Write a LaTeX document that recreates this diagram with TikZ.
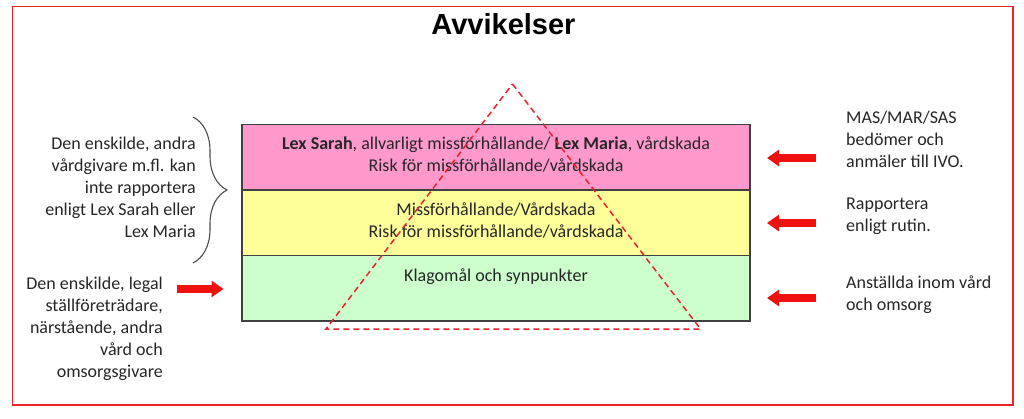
\documentclass[tikz,border=0pt]{standalone}
\usepackage{fontspec}
\setmainfont{Carlito}
\newfontfamily\titlefont{Liberation Sans}
\usetikzlibrary{arrows.meta,decorations.pathreplacing}
\definecolor{framered}{HTML}{E8232A}
\definecolor{rowpink}{HTML}{FF99CC}
\definecolor{rowyellow}{HTML}{FFFF99}
\definecolor{rowgreen}{HTML}{CCFFCC}
\definecolor{txt}{HTML}{262626}
\definecolor{arrowred}{HTML}{F01010}
\tikzset{
  body/.style={font=\fontsize{18}{22}\selectfont, text=txt, inner sep=0pt},
  rowbox/.style={draw=black!75, line width=1.3pt, minimum width=508pt, minimum height=65.5pt, inner sep=0pt},
  redarrow/.style={draw=arrowred, line width=7.5pt, -{Triangle[length=12pt,width=16pt]}},
}
\begin{document}
\begin{tikzpicture}[x=1pt,y=-1pt]
\useasboundingbox (0,0) rectangle (1024,419);
\draw[framered, line width=1.8pt] (12.5,6.5) rectangle (1013,405);
\node[anchor=base, inner sep=0pt, font=\titlefont\bfseries\fontsize{29}{34}\selectfont, text=black] (title) at (503.5,35) {Avvikelser};

\node[rowbox, fill=rowpink] (r1) at (496,157.3) {};
\node[rowbox, fill=rowyellow] (r2) at (496,222.8) {};
\node[rowbox, fill=rowgreen] (r3) at (496,288.3) {};

\node[body, anchor=base, align=center] (t1) at (496,172) {\textbf{Lex Sarah}, allvarligt missförhållande/ \textbf{Lex Maria}, vårdskada\\Risk för missförhållande/vårdskada};
\node[body, anchor=base, align=center] (t2) at (496,237.5) {Missförhållande/Vårdskada\\Risk för missförhållande/vårdskada};
\node[body, anchor=base, align=center] (t3) at (496,281) {Klagomål och synpunkter};

\coordinate (ta) at (512.5,84);
\coordinate (tl) at (326,329);
\coordinate (tr) at (700.5,329);
\draw[framered, line width=1.5pt, dash pattern=on 6pt off 4pt] (ta) -- (tr) -- (tl) -- cycle;

\node[body, anchor=base east, align=right] (l1) at (196,238) {Den enskilde, andra\\vårdgivare m.fl. kan\\inte rapportera\\enligt Lex Sarah eller\\Lex Maria};
\coordinate (bt) at (193,117);
\coordinate (bb) at (193,263);
\draw[black!70, line width=1.1pt, decorate, decoration={brace, amplitude=34pt}] (bt) -- (bb);

\node[body, anchor=base east, align=right] (l2) at (163,377) {Den enskilde, legal\\ställföreträdare,\\närstående, andra\\vård och\\omsorgsgivare};
\coordinate (la0) at (177,289);
\coordinate (la1) at (223.5,289);
\draw[redarrow] (la0) -- (la1);

\node[body, anchor=base west, align=left] (rt1) at (846,168) {MAS/MAR/SAS\\bedömer och\\anmäler till IVO.};
\node[body, anchor=base west, align=left] (rt2) at (846,232) {Rapportera\\enligt rutin.};
\node[body, anchor=base west, align=left] (rt3) at (846,310) {Anställda inom vård\\och omsorg};

\coordinate (ra0) at (816,158);
\coordinate (ra1) at (767,158);
\coordinate (rb0) at (816,223);
\coordinate (rb1) at (767,223);
\coordinate (rc0) at (816,298);
\coordinate (rc1) at (767,298);
\draw[redarrow] (ra0) -- (ra1);
\draw[redarrow] (rb0) -- (rb1);
\draw[redarrow] (rc0) -- (rc1);
\end{tikzpicture}
\end{document}
